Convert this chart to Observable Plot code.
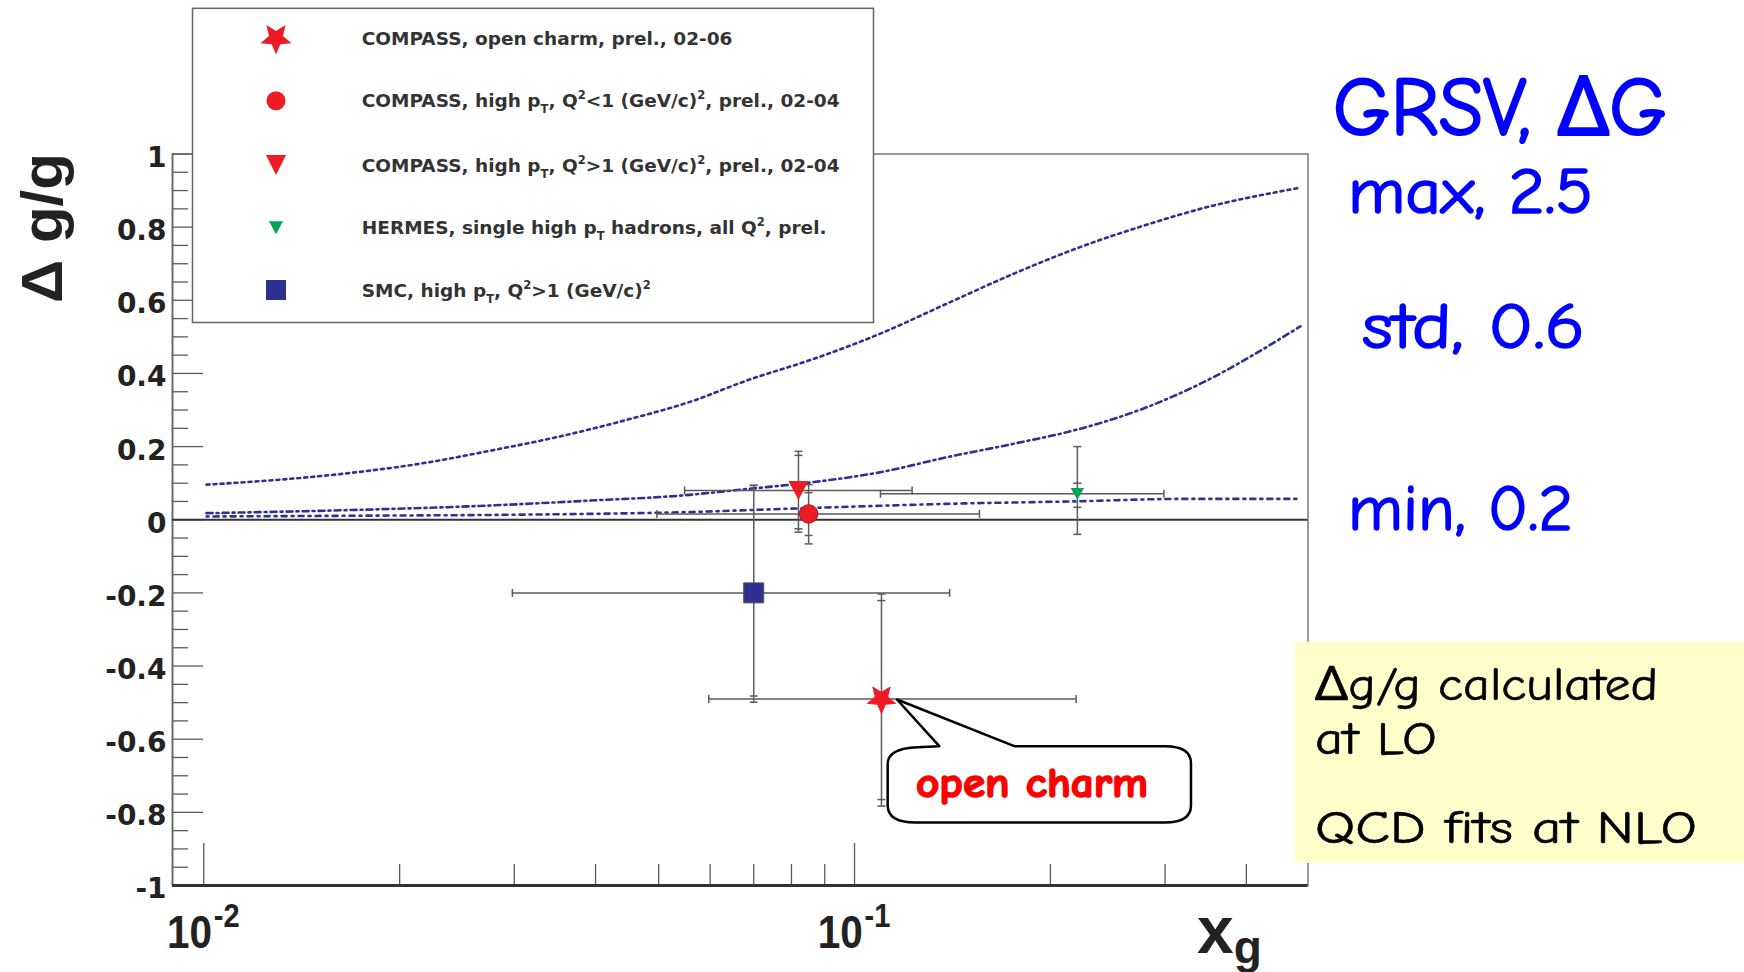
<!DOCTYPE html>
<html><head><meta charset="utf-8">
<script src="https://cdn.jsdelivr.net/npm/d3@7"></script>
<script src="https://cdn.jsdelivr.net/npm/@observablehq/plot@0.6"></script>
<style>
html,body{margin:0;padding:0;background:#fff;}
#wrap{position:relative;width:1744px;height:972px;overflow:hidden;background:#fff;}
#wrap svg.overlay{position:absolute;left:0;top:0;pointer-events:none;}
g[aria-label="y-axis tick label"]{font-family:"DejaVu Sans",sans-serif;font-weight:bold;font-size:28px;fill:#222;}
</style></head><body><div id="wrap"></div>
<script>
// ---------- data ----------
// GRSV curves (x_g, Δg/g)
const maxCurveX = [0.0101, 0.0136, 0.0172, 0.0218, 0.0276, 0.0349, 0.0442, 0.056, 0.0684, 0.0866, 0.1096, 0.1387, 0.1758, 0.2225, 0.2816, 0.340, 0.4845];
const maxCurveY = [0.096, 0.112, 0.130, 0.155, 0.189, 0.226, 0.271, 0.323, 0.381, 0.440, 0.509, 0.591, 0.673, 0.746, 0.807, 0.850, 0.908];
const stdCurveX = [0.0101, 0.0172, 0.0276, 0.0393, 0.054, 0.0684, 0.0866, 0.1096, 0.1387, 0.1758, 0.2225, 0.2816, 0.340, 0.4845];
const stdCurveY = [0.018, 0.027, 0.039, 0.0525, 0.066, 0.084, 0.103, 0.130, 0.171, 0.208, 0.249, 0.308, 0.372, 0.529];
const minCurveX = [0.0101, 0.0172, 0.031, 0.054, 0.0866, 0.1387, 0.2225, 0.3169, 0.4845];
const minCurveY = [0.009, 0.011, 0.014, 0.0205, 0.0325, 0.0435, 0.0506, 0.057, 0.057];

// measurements
const seriesNames = ["COMPASS open charm", "COMPASS high pT Q2<1", "COMPASS high pT Q2>1", "HERMES", "SMC"];
const pointX   = [0.11, 0.085, 0.082, 0.22, 0.07];
const pointY   = [-0.49, 0.016, 0.08, 0.071, -0.20];
const xErrLow  = [0.0597, 0.0497, 0.0548, 0.1096, 0.0298];
const xErrHigh = [0.219, 0.1556, 0.1226, 0.2988, 0.140];
const statLow  = [-0.765, -0.043, -0.025, 0.034, -0.482];
const statHigh = [-0.221, 0.074, 0.176, 0.100, 0.094];
const totLow   = [-0.783, -0.066, -0.034, -0.040, -0.499];
const totHigh  = [-0.203, 0.096, 0.187, 0.200, 0.094];

// axes
const yMajorTicks = [-1, -0.8, -0.6, -0.4, -0.2, 0, 0.2, 0.4, 0.6, 0.8, 1];
const yMinorTicks = d3.range(-1, 1.001, 0.05).map(v => +v.toFixed(2)).filter(v => !yMajorTicks.includes(v));
const xMajorTicks = [0.01, 0.1];
const xMajorExp = ["-2", "-1"];
const xMinorTicks = [0.02, 0.03, 0.04, 0.05, 0.06, 0.07, 0.08, 0.09, 0.2, 0.3, 0.4];

// legend labels (text segments)
const legendLabels = [
  [["COMPASS, open charm, prel., 02-06"]],
  [["COMPASS, high p"], ["T", "sub"], [", Q"], ["2", "sup"], ["<1 (GeV/c)"], ["2", "sup"], [", prel., 02-04"]],
  [["COMPASS, high p"], ["T", "sub"], [", Q"], ["2", "sup"], [">1 (GeV/c)"], ["2", "sup"], [", prel., 02-04"]],
  [["HERMES, single high p"], ["T", "sub"], [" hadrons, all Q"], ["2", "sup"], [", prel."]],
  [["SMC, high p"], ["T", "sub"], [", Q"], ["2", "sup"], [">1 (GeV/c)"], ["2", "sup"]]
];
const modelTitle = "GRSV, ΔG";
const modelLabels = ["max, 2.5", "std, 0.6", "min, 0.2"];
const noteLines = ["Δg/g calculated", "at LO", "QCD fits at NLO"];
const calloutText = "open charm";

(function () {
// ---------- styles ----------
const W = 1744, H = 972;
const M = {left: 172, right: 436.5, top: 153.5, bottom: 87};
const plotW = W - M.left - M.right, plotH = H - M.top - M.bottom;
const RED = "#ed1c24", NAVY = "#2e3192", GREEN = "#00a651", CURVE = "#2e3192", ERR = "#5a5a5a";

function poly(pts) { return {draw(ctx) { pts.forEach(([x, y], i) => i ? ctx.lineTo(x, y) : ctx.moveTo(x, y)); ctx.closePath(); }}; }
function starDown(R, k) {
  const pts = [];
  for (let i = 0; i < 10; i++) { const a = Math.PI / 2 + i * Math.PI / 5, rr = i % 2 ? R * k : R; pts.push([rr * Math.cos(a), rr * Math.sin(a)]); }
  return poly(pts);
}
function disc(r) { return {draw(ctx) { ctx.moveTo(r, 0); ctx.arc(0, 0, r, 0, 2 * Math.PI); }}; }
const symbolFor = [
  starDown(15.8, 0.45),
  disc(9.2),
  poly([[-10, -9.5], [10, -9.5], [0, 9.5]]),
  poly([[-6.7, -5.8], [6.7, -5.8], [0, 5.8]]),
  poly([[-10, -10], [10, -10], [10, 10], [-10, 10]])
];
const fillFor = [RED, RED, RED, GREEN, NAVY];
const strokeFor = ["none", "#a01818", "none", "none", "#555"];
const hCap = {draw(ctx) { ctx.moveTo(-4, 0); ctx.lineTo(4, 0); }};
const vCap = {draw(ctx) { ctx.moveTo(0, -4); ctx.lineTo(0, 4); }};

// ---------- tables ----------
const toLine = (xs, ys) => xs.map((x, i) => ({x, y: ys[i]}));
const points = seriesNames.map((name, i) => ({
  name, i, x: pointX[i], y: pointY[i], xlo: xErrLow[i], xhi: xErrHigh[i],
  slo: statLow[i], shi: statHigh[i], tlo: totLow[i], thi: totHigh[i]
}));
const yCaps = points.flatMap(p => [p.slo, p.shi, p.tlo, p.thi].map(y => ({x: p.x, y})));
const xCaps = points.flatMap(p => [p.xlo, p.xhi].map(x => ({x, y: p.y})));

const fmt = d => String(+d.toFixed(1));

const plot = Plot.plot({
  width: W, height: H,
  marginLeft: M.left, marginRight: M.right, marginTop: M.top, marginBottom: M.bottom,
  x: {type: "log", domain: [0.008953, 0.4975], axis: null},
  y: {domain: [-1, 1], axis: null},
  style: {background: "white", overflow: "visible"},
  marks: [
    Plot.frame({stroke: "#7a7a7a", strokeWidth: 1.5}),
    Plot.tickY(yMinorTicks, {stroke: ERR, strokeWidth: 1.3, insetRight: plotW - 16}),
    Plot.tickY(yMajorTicks, {stroke: ERR, strokeWidth: 1.3, insetRight: plotW - 31}),
    Plot.tickX(xMinorTicks, {stroke: ERR, strokeWidth: 1.3, insetTop: plotH - 21}),
    Plot.tickX(xMajorTicks, {stroke: ERR, strokeWidth: 1.3, insetTop: plotH - 42}),
    Plot.ruleX([0.008953], {stroke: "#666", strokeWidth: 1.6}),
    Plot.ruleY([-1], {stroke: "#333", strokeWidth: 3}),
    Plot.ruleY([0], {stroke: "#333", strokeWidth: 2}),
    Plot.axisY({ticks: yMajorTicks, tickSize: 0, tickPadding: 6, tickFormat: fmt, dy: 4}),
    Plot.line(toLine(maxCurveX, maxCurveY), {x: "x", y: "y", curve: "monotone-x", stroke: CURVE, strokeWidth: 2.6, strokeDasharray: "3 4"}),
    Plot.line(toLine(stdCurveX, stdCurveY), {x: "x", y: "y", curve: "monotone-x", stroke: CURVE, strokeWidth: 2.6, strokeDasharray: "6 4 2 4"}),
    Plot.line(toLine(minCurveX, minCurveY), {x: "x", y: "y", curve: "monotone-x", stroke: CURVE, strokeWidth: 2.6, strokeDasharray: "2 5 5 5"}),
    Plot.ruleY(points, {y: "y", x1: "xlo", x2: "xhi", stroke: ERR, strokeWidth: 1.5}),
    Plot.ruleX(points, {x: "x", y1: "tlo", y2: "thi", stroke: ERR, strokeWidth: 1.5}),
    Plot.dot(yCaps, {x: "x", y: "y", symbol: hCap, fill: "none", stroke: ERR, strokeWidth: 1.5}),
    Plot.dot(xCaps, {x: "x", y: "y", symbol: vCap, fill: "none", stroke: ERR, strokeWidth: 1.5}),
    ...points.map(p => Plot.dot([p], {x: "x", y: "y", symbol: symbolFor[p.i], fill: fillFor[p.i], stroke: strokeFor[p.i], strokeWidth: 1}))
  ]
});

const wrap = document.getElementById("wrap");
wrap.appendChild(plot);
const sx = plot.scale("x"), sy = plot.scale("y");

// ---------- overlay: axis titles, tick labels, legend, notes ----------
const ov = d3.select(wrap).append("svg").attr("class", "overlay").attr("width", W).attr("height", H);
const baseY = sy.apply(-1);

// x tick labels 10^-2, 10^-1
xMajorTicks.forEach((v, i) => {
  const t = ov.append("text")
    .attr("transform", `translate(${sx.apply(v)},${baseY + 63}) scale(0.88,1)`)
    .attr("text-anchor", "middle").attr("font-family", "Liberation Sans, Arial, sans-serif")
    .attr("font-weight", "bold").attr("fill", "#222").attr("font-size", 46);
  t.append("tspan").text("10");
  t.append("tspan").attr("dy", -21).attr("dx", 2).attr("font-size", 33).text(xMajorExp[i]);
});
// x title
const xt = ov.append("text").attr("x", 1197).attr("y", baseY + 68)
  .attr("font-family", "Liberation Sans, Arial, sans-serif").attr("font-weight", "bold").attr("fill", "#222");
xt.append("tspan").attr("font-size", 66).text("x");
xt.append("tspan").attr("font-size", 46).attr("dy", 10).text("g");
// y title
ov.append("text").attr("transform", `translate(62,228) rotate(-90)`)
  .attr("text-anchor", "middle").attr("font-family", "Liberation Sans, Arial, sans-serif")
  .attr("font-weight", "bold").attr("font-size", 58).attr("fill", "#222")
  .attr("textLength", 150).attr("lengthAdjust", "spacingAndGlyphs").text("Δ g/g");

// legend
ov.append("rect").attr("x", 192.5).attr("y", 8.3).attr("width", 681).attr("height", 314.2)
  .attr("fill", "white").attr("stroke", "#666").attr("stroke-width", 1.5);
const legendRowY = [38.3, 100.7, 165, 227.7, 290];
const legendSymbol = [
  starDown(16.3, 0.45),
  disc(9.5),
  poly([[-10, -10], [10, -10], [0, 10]]),
  poly([[-7, -6.5], [7, -6.5], [0, 6.5]]),
  poly([[-10, -10], [10, -10], [10, 10], [-10, 10]])
];
legendLabels.forEach((segs, i) => {
  const cy = legendRowY[i];
  const p = d3.path(); legendSymbol[i].draw(p);
  ov.append("path").attr("d", p.toString()).attr("transform", `translate(276,${cy})`).attr("fill", fillFor[i]);
  const t = ov.append("text").attr("x", 361.8).attr("y", cy + 6.7)
    .attr("font-family", "DejaVu Sans, sans-serif").attr("font-weight", "bold").attr("fill", "#333").attr("font-size", 18.5);
  let shift = 0;
  segs.forEach(([s, k]) => {
    const target = k === "sub" ? 6 : k === "sup" ? -8 : 0;
    t.append("tspan").attr("dy", target - shift).attr("font-size", k ? 11.5 : 18.5).text(s);
    shift = target;
  });
});

// right-hand model labels
const COMIC = "'Comic Sans MS','Comic Neue','Noto Sans',sans-serif";
ov.append("text").attr("x", 1333).attr("y", 135).attr("font-family", COMIC).attr("font-size", 82)
  .attr("fill", "#0000ff").attr("stroke", "#0000ff").attr("stroke-width", 2.2)
  .attr("textLength", 334).attr("lengthAdjust", "spacingAndGlyphs").text(modelTitle);
const modelPos = [[1348, 213, 245], [1362, 348, 223], [1348, 530, 225]];
modelLabels.forEach((s, i) => {
  ov.append("text").attr("x", modelPos[i][0]).attr("y", modelPos[i][1]).attr("font-family", COMIC)
    .attr("font-size", 64).attr("fill", "#0000ff").attr("stroke", "#0000ff").attr("stroke-width", 1.6)
    .attr("textLength", modelPos[i][2]).attr("lengthAdjust", "spacingAndGlyphs").text(s);
});

// yellow note box
ov.append("rect").attr("x", 1295).attr("y", 641.7).attr("width", 449).attr("height", 221.3).attr("fill", "#ffffcc");
const notePos = [[700, 343], [754, 122], [843, 382]];
noteLines.forEach((s, i) => {
  ov.append("text").attr("x", 1315).attr("y", notePos[i][0]).attr("font-family", COMIC).attr("font-size", 47)
    .attr("fill", "#000").attr("stroke", "#000").attr("stroke-width", 0.6)
    .attr("textLength", notePos[i][1]).attr("lengthAdjust", "spacingAndGlyphs").text(s);
});

// callout bubble attached to the open-charm point
const px = sx.apply(pointX[0]), py = sy.apply(pointY[0]);
const tip = [px + 16, py + 1];
const bTop = py + 47.7, bBot = py + 124, bL = px + 6.7, bR = px + 310;
const bub = `M${tip[0]},${tip[1]} L${px + 133.3},${bTop} L${bR - 26},${bTop} Q${bR},${bTop} ${bR},${bTop + 17}
 L${bR},${bBot - 17} Q${bR},${bBot} ${bR - 26},${bBot} L${bL + 28},${bBot} Q${bL},${bBot} ${bL},${bBot - 17}
 L${bL},${bTop + 18} Q${bL},${bTop + 2} ${bL + 30},${bTop + 1} L${px + 58.3},${bTop} Z`;
ov.append("path").attr("d", bub).attr("fill", "white").attr("stroke", "#000").attr("stroke-width", 2.5).attr("stroke-linejoin", "round");
ov.append("text").attr("x", px + 35).attr("y", py + 98.4).attr("font-family", COMIC).attr("font-weight", "bold")
  .attr("font-size", 42).attr("fill", "#ff0000").attr("stroke", "#ff0000").attr("stroke-width", 1.6)
  .attr("textLength", 232).attr("lengthAdjust", "spacingAndGlyphs").text(calloutText);
})();
</script>
</body></html>
